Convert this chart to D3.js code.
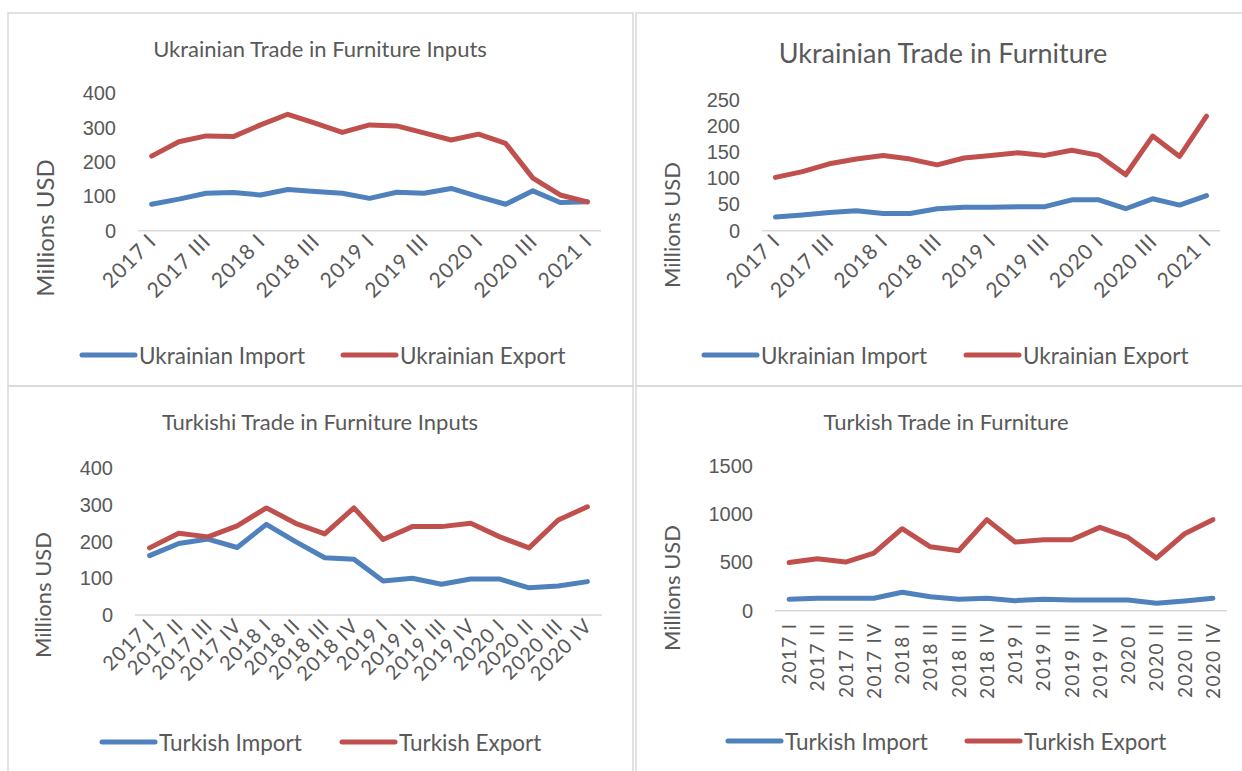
<!DOCTYPE html>
<html>
<head>
<meta charset="utf-8">
<script src="https://cdn.jsdelivr.net/npm/d3@7"></script>
<style>
  html, body { margin: 0; padding: 0; background: #fff; }
  svg { display: block; font-family: Lato, "Open Sans", sans-serif; }
</style>
</head>
<body>
<svg id="chart" width="1242" height="771"></svg>
<script>
// Quarter labels
const quartersUA = ["2017 I","2017 II","2017 III","2017 IV","2018 I","2018 II","2018 III","2018 IV",
  "2019 I","2019 II","2019 III","2019 IV","2020 I","2020 II","2020 III","2020 IV","2021 I"];
const quartersTR = ["2017 I","2017 II","2017 III","2017 IV","2018 I","2018 II","2018 III","2018 IV",
  "2019 I","2019 II","2019 III","2019 IV","2020 I","2020 II","2020 III","2020 IV"];

// Ukrainian trade in furniture inputs, millions USD
const uaInputsImport = [77, 92, 109, 111, 104, 120, 114, 109, 94, 112, 109, 123, 99, 77, 116, 82, 84];
const uaInputsExport = [217, 259, 276, 274, 308, 339, 313, 286, 308, 305, 285, 264, 281, 254, 153, 104, 84];

// Ukrainian trade in furniture, millions USD
const uaFurnImport = [26, 30, 35, 38, 33, 33, 42, 45, 45, 46, 46, 59, 59, 42, 61, 49, 67];
const uaFurnExport = [102, 113, 128, 137, 144, 137, 126, 139, 144, 149, 144, 154, 144, 107, 181, 142, 219];

// Turkish trade in furniture inputs, millions USD
const trInputsImport = [162, 195, 207, 184, 247, 200, 156, 152, 93, 100, 84, 98, 98, 74, 79, 91];
const trInputsExport = [183, 223, 213, 243, 292, 250, 221, 292, 206, 241, 241, 250, 213, 183, 259, 295];

// Turkish trade in furniture, millions USD
const trFurnImport = [118, 129, 129, 129, 191, 145, 118, 129, 104, 118, 111, 111, 111, 77, 101, 129];
const trFurnExport = [498, 537, 503, 596, 848, 661, 620, 942, 710, 734, 734, 862, 758, 544, 796, 942];

// Axis ticks
const ticks400 = [0, 100, 200, 300, 400];
const ticks250 = [0, 50, 100, 150, 200, 250];
const ticks1500 = [0, 500, 1000, 1500];

const BLUE = "#4f81bd", RED = "#c0504d", TEXT = "#595959", GRID = "#d9d9d9";

const svg = d3.select("#chart");

// panel frames
const frames = [[8, 13, 633, 386], [636, 13, 1250, 386], [8, 386, 633, 780], [636, 386, 1250, 780]];
svg.selectAll("rect.frame").data(frames).join("rect")
  .attr("class", "frame")
  .attr("x", d => d[0]).attr("y", d => d[1])
  .attr("width", d => d[2] - d[0]).attr("height", d => d[3] - d[1])
  .attr("fill", "none").attr("stroke", GRID).attr("stroke-width", 1.5);

const panels = [
  {
    title: "Ukrainian Trade in Furniture Inputs", titleX: 320, titleY: 48, titleSize: 22,
    cats: quartersUA, imp: uaInputsImport, exp: uaInputsExport,
    impName: "Ukrainian Import", expName: "Ukrainian Export",
    x0: 138, x1: 601, yBase: 230.7, yTop: 93.3, max: 400, ticks: ticks400, tickX: 116,
    labelEvery: 2, rotate: -45, labelSize: 21, spacing: 1,
    yTitleX: 44, yTitleY: 228, yTitleSize: 24,
    legendY: 355, legend: [82, 343]
  },
  {
    title: "Ukrainian Trade in Furniture", titleX: 943, titleY: 52, titleSize: 27,
    cats: quartersUA, imp: uaFurnImport, exp: uaFurnExport,
    impName: "Ukrainian Import", expName: "Ukrainian Export",
    x0: 762, x1: 1220, yBase: 230.7, yTop: 100, max: 250, ticks: ticks250, tickX: 740,
    labelEvery: 2, rotate: -45, labelSize: 21, spacing: 1,
    yTitleX: 671, yTitleY: 225, yTitleSize: 22,
    legendY: 355, legend: [704, 966]
  },
  {
    title: "Turkishi Trade in Furniture Inputs", titleX: 320, titleY: 421, titleSize: 22,
    cats: quartersTR, imp: trInputsImport, exp: trInputsExport,
    impName: "Turkish Import", expName: "Turkish Export",
    x0: 135, x1: 602, yBase: 615, yTop: 468.3, max: 400, ticks: ticks400, tickX: 113,
    labelEvery: 1, rotate: -45, labelSize: 20, spacing: 1,
    yTitleX: 42, yTitleY: 595, yTitleSize: 22,
    legendY: 742, legend: [102, 342]
  },
  {
    title: "Turkish Trade in Furniture", titleX: 946, titleY: 421, titleSize: 22,
    cats: quartersTR, imp: trFurnImport, exp: trFurnExport,
    impName: "Turkish Import", expName: "Turkish Export",
    x0: 775, x1: 1227, yBase: 610.7, yTop: 465.7, max: 1500, ticks: ticks1500, tickX: 753,
    labelEvery: 1, rotate: -90, labelSize: 19, spacing: 1.3,
    yTitleX: 671, yTitleY: 588, yTitleSize: 22,
    legendY: 741, legend: [728, 967]
  }
];

panels.forEach(p => {
  const g = svg.append("g");
  const x = d3.scalePoint().domain(p.cats).range([p.x0, p.x1]).padding(0.5);
  const y = d3.scaleLinear().domain([0, p.max]).range([p.yBase, p.yTop]);

  // title
  g.append("text").attr("x", p.titleX).attr("y", p.titleY)
    .attr("text-anchor", "middle").attr("dominant-baseline", "central")
    .attr("font-size", p.titleSize).attr("fill", TEXT).text(p.title);

  // value axis labels
  const yAxis = d3.axisLeft(y).tickValues(p.ticks).tickSize(0).tickPadding(0)
    .tickFormat(d3.format("d"));
  const ya = g.append("g").attr("transform", `translate(${p.tickX},0)`).call(yAxis);
  ya.select(".domain").remove();
  ya.selectAll("text").attr("font-size", 20).attr("fill", TEXT).attr("font-family", null);

  // baseline
  g.append("line").attr("x1", p.x0).attr("x2", p.x1)
    .attr("y1", p.yBase).attr("y2", p.yBase)
    .attr("stroke", GRID).attr("stroke-width", 1.5);

  // category labels
  const shown = p.cats.filter((c, i) => i % p.labelEvery === 0);
  const xa = g.append("g");
  xa.selectAll("text").data(shown).join("text")
    .attr("transform", d => p.rotate === -90
      ? `translate(${x(d) + 7},${p.yBase + 12}) rotate(-90)`
      : `translate(${x(d) + 6},${p.yBase + 12}) rotate(-45)`)
    .attr("text-anchor", "end")
    .attr("font-size", p.labelSize).attr("fill", TEXT)
    .attr("letter-spacing", p.spacing)
    .text(d => d);

  // value axis title
  g.append("text")
    .attr("transform", `translate(${p.yTitleX},${p.yTitleY}) rotate(-90)`)
    .attr("text-anchor", "middle").attr("dominant-baseline", "central")
    .attr("font-size", p.yTitleSize).attr("fill", TEXT).text("Millions USD");

  // series lines
  const line = d3.line().x((d, i) => x(p.cats[i])).y(d => y(d));
  [[p.imp, BLUE], [p.exp, RED]].forEach(([vals, col]) => {
    g.append("path").datum(vals).attr("d", line)
      .attr("fill", "none").attr("stroke", col).attr("stroke-width", 5)
      .attr("stroke-linejoin", "round").attr("stroke-linecap", "round");
  });

  // legend
  const items = [[p.impName, BLUE, p.legend[0]], [p.expName, RED, p.legend[1]]];
  items.forEach(([name, col, lx]) => {
    g.append("line").attr("x1", lx).attr("x2", lx + 53)
      .attr("y1", p.legendY).attr("y2", p.legendY)
      .attr("stroke", col).attr("stroke-width", 5).attr("stroke-linecap", "round");
    g.append("text").attr("x", lx + 57).attr("y", p.legendY)
      .attr("dominant-baseline", "central")
      .attr("font-size", 22.5).attr("fill", TEXT).text(name);
  });
});
</script>
</body>
</html>
